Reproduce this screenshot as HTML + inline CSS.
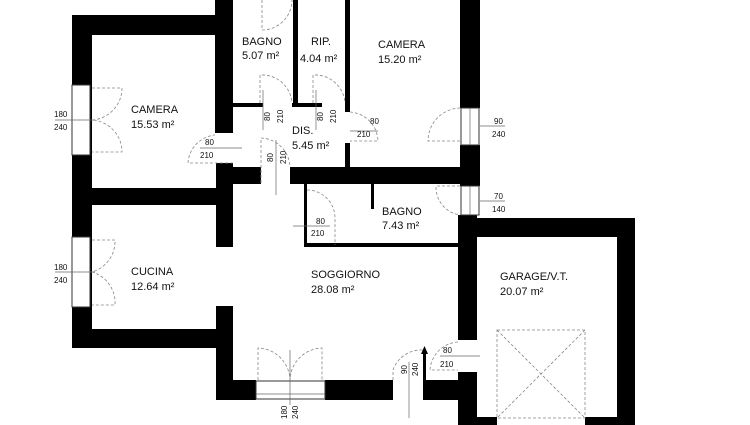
<!DOCTYPE html>
<html><head><style>body{margin:0;background:#fff}svg{display:block}text{font-family:"Liberation Sans",sans-serif;fill:#111}</style></head><body>
<svg width="750" height="425" viewBox="0 0 750 425" xmlns="http://www.w3.org/2000/svg">
<g fill="#000">
<rect x="72" y="15" width="161" height="20"/>
<rect x="72" y="15" width="20" height="333"/>
<rect x="215" y="0" width="18" height="133"/>
<rect x="216" y="163" width="17" height="84"/>
<rect x="72" y="188" width="145" height="17"/>
<rect x="72" y="329" width="161" height="19"/>
<rect x="216" y="306" width="17" height="94"/>
<rect x="216" y="380" width="40" height="20"/>
<rect x="325" y="380" width="68" height="20"/>
<rect x="425" y="380" width="35" height="20"/>
<rect x="233" y="103" width="30" height="4"/>
<rect x="292" y="103" width="30" height="4"/>
<rect x="293" y="0" width="5" height="105"/>
<rect x="345" y="0" width="5" height="112"/>
<rect x="345" y="143" width="5" height="27"/>
<rect x="233" y="167" width="28" height="17"/>
<rect x="290" y="167" width="190" height="17"/>
<rect x="304" y="183" width="3" height="62"/>
<rect x="304" y="243" width="156" height="4"/>
<rect x="371" y="183" width="3" height="26"/>
<rect x="460" y="0" width="20" height="108"/>
<rect x="460" y="145" width="20" height="41"/>
<rect x="458" y="215" width="19" height="125"/>
<rect x="458" y="372" width="19" height="53"/>
<rect x="458" y="218" width="177" height="19"/>
<rect x="617" y="218" width="18" height="207"/>
<rect x="477" y="417" width="20" height="8"/>
<rect x="585" y="417" width="32" height="8"/>
</g>
<g fill="#fff" stroke="#333" stroke-width="1">
<rect x="72" y="85" width="18" height="70"/>
<rect x="72" y="237" width="18" height="70"/>
<rect x="256" y="381" width="69" height="18"/>
<rect x="461" y="108" width="18" height="37"/>
<rect x="461" y="186" width="18" height="29"/>
</g>
<g stroke="#666" fill="none" stroke-width="0.7">
<line x1="72" y1="120" x2="95" y2="120"/><line x1="72" y1="272" x2="95" y2="272"/>
<line x1="290" y1="350" x2="290" y2="405"/><line x1="256" y1="394" x2="325" y2="394"/>
<line x1="470" y1="108" x2="470" y2="145"/><line x1="470" y1="186" x2="470" y2="215"/>
<line x1="480" y1="126" x2="505" y2="126"/><line x1="480" y1="201" x2="505" y2="201"/>
<line x1="55" y1="120" x2="72" y2="120"/><line x1="55" y1="272" x2="72" y2="272"/>
<line x1="409" y1="362" x2="409" y2="418"/>
<line x1="440" y1="356" x2="480" y2="356"/>
<line x1="263" y1="90" x2="263" y2="130"/><line x1="316" y1="90" x2="316" y2="130"/>
<line x1="276" y1="140" x2="276" y2="195"/><line x1="200" y1="148" x2="242" y2="148"/>
<line x1="350" y1="131" x2="378" y2="131"/><line x1="293" y1="226" x2="330" y2="226"/>
</g>
<g stroke="#888" fill="none" stroke-width="0.8" stroke-dasharray="3,2">
<path d="M92 88 H122 A32 32 0 0 1 92 120 A32 32 0 0 1 122 152 H92"/>
<path d="M92 240 H115 A32 32 0 0 1 92 272 A32 32 0 0 1 115 305 H92"/>
<path d="M233 163 H188 A30 30 0 0 1 215 135"/>
<path d="M260 103 V75 A30 30 0 0 1 292 103"/>
<path d="M313 103 V75 A30 30 0 0 1 345 103"/>
<path d="M262 0 V30 A30 30 0 0 0 292 0"/>
<path d="M261 183 V138 A30 30 0 0 1 290 167"/>
<path d="M350 112 A30 30 0 0 1 378 141 H350"/>
<path d="M460 141 H428 A33 33 0 0 1 460 108"/>
<path d="M460 186 H436 A28 28 0 0 0 460 215"/>
<path d="M307 190 A28 28 0 0 1 335 218 V245"/>
<path d="M258 380 V348 A33 33 0 0 1 290 380 A33 33 0 0 1 322 348 V380"/>
<path d="M393 380 V370 A30 30 0 0 1 423 350"/>
<path d="M458 342 A30 30 0 0 0 430 370 H458"/>
<rect x="497" y="330" width="88" height="88"/>
<line x1="497" y1="330" x2="585" y2="418"/><line x1="585" y1="330" x2="497" y2="418"/>
</g>
<g fill="#000"><rect x="423" y="351" width="3" height="49"/><path d="M421 354 L424.5 346 L428 354Z"/></g>
<g font-size="11">
<text x="242" y="45">BAGNO</text><text x="242" y="59">5.07 m²</text>
<text x="311" y="45">RIP.</text><text x="300" y="62">4.04 m²</text>
<text x="378" y="48">CAMERA</text><text x="378" y="63">15.20 m²</text>
<text x="131" y="113">CAMERA</text><text x="131" y="128">15.53 m²</text>
<text x="292" y="134">DIS.</text><text x="292" y="149">5.45 m²</text>
<text x="382" y="215">BAGNO</text><text x="382" y="229">7.43 m²</text>
<text x="131" y="275">CUCINA</text><text x="131" y="290">12.64 m²</text>
<text x="311" y="278">SOGGIORNO</text><text x="311" y="293">28.08 m²</text>
<text x="500" y="280">GARAGE/V.T.</text><text x="500" y="295">20.07 m²</text>
</g>
<g font-size="8">
<text x="54" y="117">180</text><text x="54" y="130">240</text>
<text x="54" y="270">180</text><text x="54" y="283">240</text>
<text x="494" y="124">90</text><text x="492" y="137">240</text>
<text x="494" y="199">70</text><text x="492" y="212">140</text>
<text x="205" y="145">80</text><text x="200" y="158">210</text>
<text x="370" y="124">80</text><text x="357" y="137">210</text>
<text x="316" y="224">80</text><text x="311" y="236">210</text>
<text x="443" y="353">80</text><text x="440" y="367">210</text>
<text transform="translate(270,121) rotate(-90)">80</text><text transform="translate(283,123) rotate(-90)">210</text>
<text transform="translate(323,121) rotate(-90)">80</text><text transform="translate(336,123) rotate(-90)">210</text>
<text transform="translate(273,162) rotate(-90)">80</text><text transform="translate(286,164) rotate(-90)">210</text>
<text transform="translate(407,374) rotate(-90)">90</text><text transform="translate(418,376) rotate(-90)">240</text>
<text transform="translate(287,419) rotate(-90)">180</text><text transform="translate(298,419) rotate(-90)">240</text>
</g>
</svg>
</body></html>
